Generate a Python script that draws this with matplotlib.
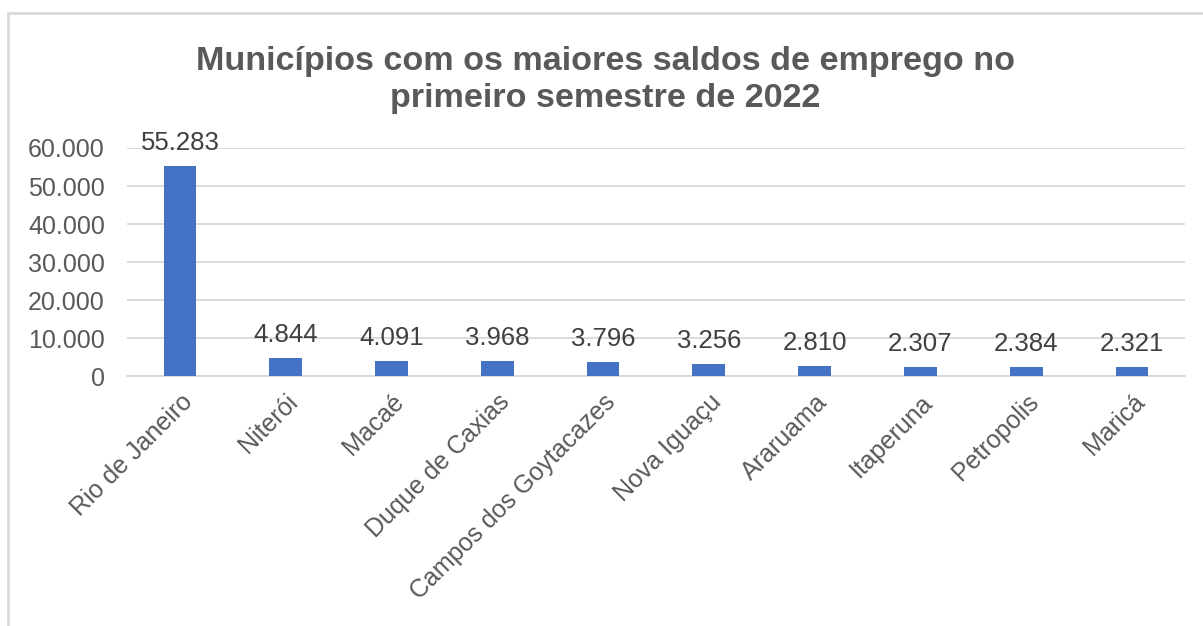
import matplotlib.pyplot as plt
from matplotlib.lines import Line2D

municipios = ["Rio de Janeiro", "Niterói", "Macaé", "Duque de Caxias",
              "Campos dos Goytacazes", "Nova Iguaçu", "Araruama", "Itaperuna",
              "Petropolis", "Maricá"]
saldos = [55283, 4844, 4091, 3968, 3796, 3256, 2810, 2307, 2384, 2321]
yticks = [0, 10000, 20000, 30000, 40000, 50000, 60000]


def fmt(v):
    return f"{v:,}".replace(",", ".")


plt.rcParams['font.family'] = ['Liberation Sans', 'DejaVu Sans']

fig = plt.figure(figsize=(12.03, 6.26), dpi=100)
ax = fig.add_axes([0.1056, 0.399, 0.8794, 0.3646])

x = list(range(len(municipios)))
ax.bar(x, saldos, width=0.31, color="#4472C4", zorder=3)
for xi, v in zip(x, saldos):
    ax.text(xi, v + 2900, fmt(v), ha="center", va="bottom",
            fontsize=18.5, color="#404040", zorder=4)

ax.set_xlim(-0.5, len(municipios) - 0.5)
ax.set_ylim(0, 60000)
ax.set_yticks(yticks)
ax.set_yticklabels([fmt(t) for t in yticks], fontsize=18, color="#595959")
ax.set_xticks(x)
ax.set_xticklabels(municipios, rotation=45, ha="right", rotation_mode="anchor",
                   fontsize=18, color="#595959")
ax.tick_params(axis="both", length=0)
ax.tick_params(axis="y", pad=16)
ax.tick_params(axis="x", pad=10)
ax.grid(axis="y", color="#D9D9D9", linewidth=1.3, zorder=0)
for s in ["top", "right", "left"]:
    ax.spines[s].set_visible(False)
ax.spines["bottom"].set_color("#D9D9D9")
ax.spines["bottom"].set_linewidth(1.3)

fig.text(0.503, 0.872, "Municípios com os maiores saldos de emprego no\nprimeiro semestre de 2022",
         ha="center", va="center", fontsize=24.6, fontweight="bold",
         color="#595959", linespacing=1.25)

# chart border (only left and top visible in the crop)
fig.add_artist(Line2D([0.0066, 0.0066], [0.0, 0.979], transform=fig.transFigure,
                      color="#D9D9D9", linewidth=2))
fig.add_artist(Line2D([0.0066, 1.0], [0.979, 0.979], transform=fig.transFigure,
                      color="#D9D9D9", linewidth=2))

fig.savefig("out.png", dpi=100)
